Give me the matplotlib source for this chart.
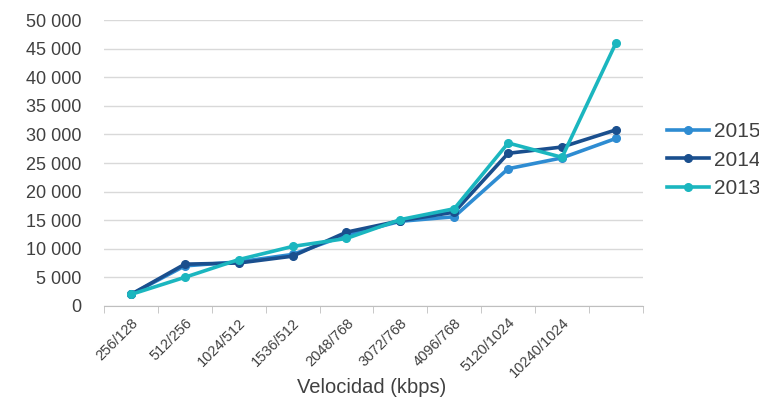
import numpy as np
import matplotlib.pyplot as plt
from matplotlib.ticker import FuncFormatter

plt.rcParams['font.family'] = ['Liberation Sans', 'DejaVu Sans']

# categories (last one has no label)
velocidades = ["256/128", "512/256", "1024/512", "1536/512", "2048/768",
               "3072/768", "4096/768", "5120/1024", "10240/1024", ""]

# series values
v2015 = [2000, 7000, 7700, 9000, 12400, 14800, 15600, 24000, 25900, 29300]
v2014 = [2000, 7300, 7500, 8700, 12900, 14900, 16400, 26700, 27800, 30800]
v2013 = [2000, 5000, 8100, 10400, 11800, 15100, 17000, 28500, 26000, 46000]

c2015 = "#2E8CD2"
c2014 = "#1A4F8E"
c2013 = "#1BB6BF"

fig = plt.figure(figsize=(7.59, 4.03), dpi=100)
ax = fig.add_axes([0.137, 0.241, 0.710, 0.709])

x = np.arange(len(velocidades))
ax.plot(x, v2015, color=c2015, lw=2.6, marker="o", ms=5.5, label="2015", zorder=3)
ax.plot(x, v2014, color=c2014, lw=2.6, marker="o", ms=5.5, label="2014", zorder=4)
ax.plot(x, v2013, color=c2013, lw=2.6, marker="o", ms=5.5, label="2013", zorder=5)

ax.set_xlim(-0.5, len(velocidades) - 0.5)
ax.set_ylim(0, 50000)
ax.set_yticks(np.arange(0, 50001, 5000))
ax.yaxis.set_major_formatter(FuncFormatter(lambda v, p: f"{int(v):,}".replace(",", " ")))
ax.grid(axis="y", color="#D9D9D9", lw=1)
ax.set_axisbelow(True)

ax.set_xticks(x)
ax.set_xticklabels(velocidades, rotation=45, ha="right", rotation_mode="anchor",
                   fontsize=10.5, color="#404040")
ax.set_xticks(np.arange(-0.5, len(velocidades)), minor=True)
ax.tick_params(axis="x", which="major", length=0, pad=7)
ax.tick_params(axis="x", which="minor", length=5, color="#BFBFBF")
ax.tick_params(axis="y", length=0, labelsize=13, labelcolor="#404040", pad=16)

for s in ["top", "right", "left"]:
    ax.spines[s].set_visible(False)
ax.spines["bottom"].set_color("#BFBFBF")

# x label placed by hand so it stays inside the figure
fig.text(0.49, 0.038, "Velocidad (kbps)", ha="center", va="center",
         fontsize=14.5, color="#404040")

ax.legend(loc="center left", bbox_to_anchor=(1.01, 0.51), frameon=False,
          fontsize=15, labelcolor="#404040", handlelength=2.0, handletextpad=0.25,
          labelspacing=0.45)

plt.savefig("out.png")
